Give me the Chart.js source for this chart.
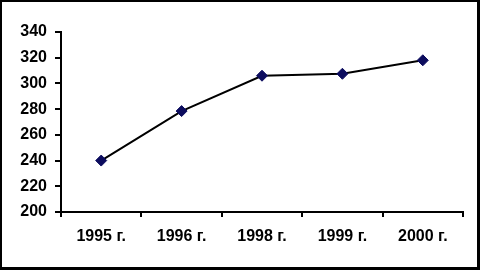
<!DOCTYPE html>
<html>
<head>
<meta charset="utf-8">
<script src="https://cdn.jsdelivr.net/npm/chart.js@4"></script>
<style>
  html, body { margin: 0; padding: 0; background: #fff; }
  #wrap { position: relative; width: 480px; height: 270px; }
  #frame { position: absolute; left: 0; top: 0; width: 480px; height: 270px;
           box-sizing: border-box; border-style: solid; border-color: #000;
           border-width: 2px 3px 3px 2px; pointer-events: none; }
  canvas { position: absolute; left: 0; top: 0; }
</style>
</head>
<body>
<div id="wrap">
  <canvas id="chart" width="480" height="270"></canvas>
  <div id="frame"></div>
</div>
<script>
  const years = ['1995 г.', '1996 г.', '1998 г.', '1999 г.', '2000 г.'];
  const values = [240, 278.5, 306, 307.5, 318];
  const yMin = 200, yMax = 340, yStep = 20;

  const font = { family: '"Liberation Sans", Arial, sans-serif', size: 16, weight: 'bold' };

  new Chart(document.getElementById('chart').getContext('2d'), {
    type: 'line',
    data: {
      labels: years,
      datasets: [{
        data: values,
        borderColor: '#000',
        borderWidth: 2,
        pointStyle: 'rectRot',
        pointRadius: 5.5,
        pointBackgroundColor: '#0c0c5e',
        pointBorderColor: '#0c0c5e',
        pointBorderWidth: 1,
        tension: 0,
        fill: false
      }]
    },
    options: {
      responsive: false,
      animation: false,
      layout: { padding: { left: 0, right: 17, top: 32, bottom: 18 } },
      plugins: { legend: { display: false }, tooltip: { enabled: false } },
      scales: {
        x: {
          offset: true,
          grid: { offset: true, drawOnChartArea: false, color: '#000', lineWidth: 2, tickLength: 5 },
          border: { color: '#000', width: 2 },
          ticks: { color: '#000', font: font, padding: 10, maxRotation: 0 },
          afterFit: s => { s.height = 40; }
        },
        y: {
          min: yMin,
          max: yMax,
          grid: { drawOnChartArea: false, color: '#000', lineWidth: 2, tickLength: 6 },
          border: { color: '#000', width: 2 },
          ticks: { stepSize: yStep, color: '#000', font: font, padding: 8 },
          afterFit: s => { s.width = 61; }
        }
      }
    }
  });
</script>
</body>
</html>
